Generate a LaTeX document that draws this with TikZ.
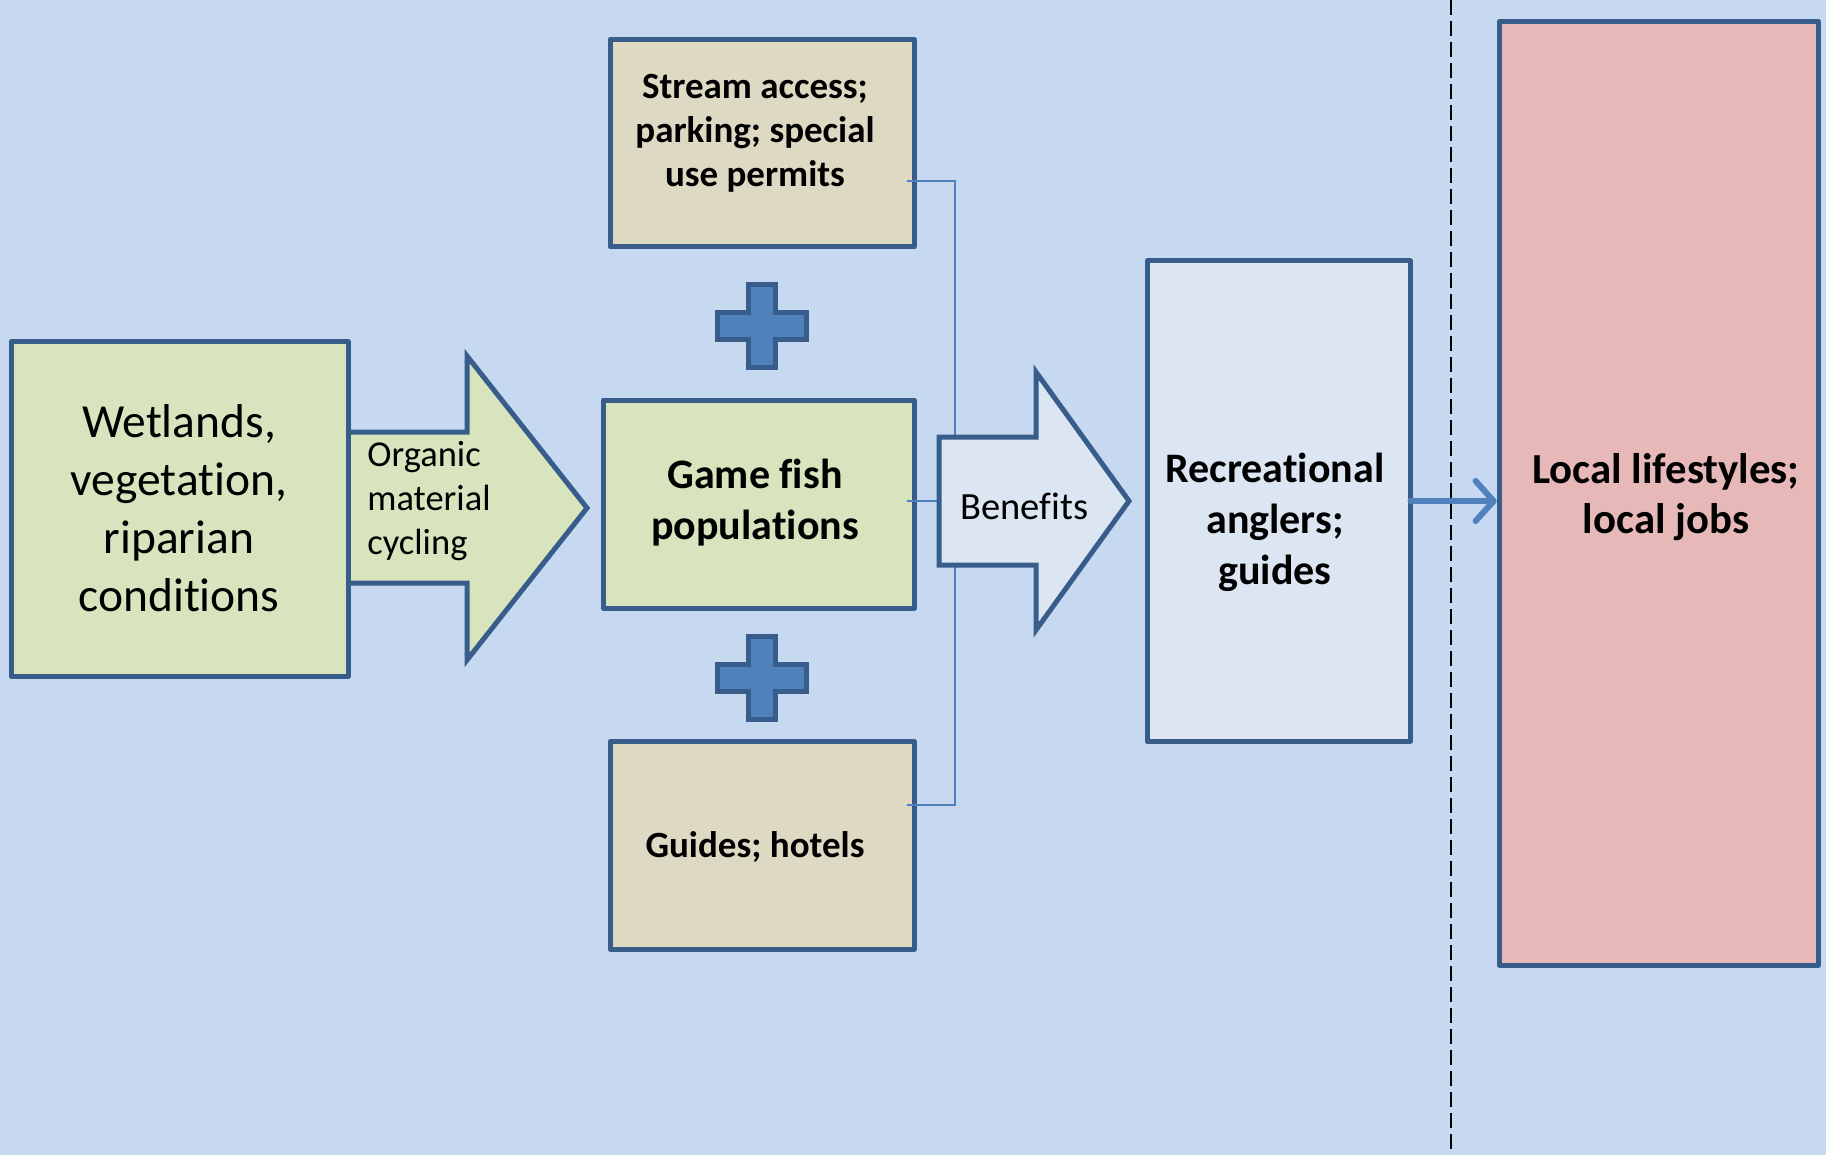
\documentclass[tikz,border=0pt]{standalone}
\usepackage{fontspec}
\setmainfont[Ligatures={NoCommon}]{Carlito}
\usetikzlibrary{calc,arrows.meta}
\definecolor{bgblue}{HTML}{C6D9F1}
\definecolor{boxgreen}{HTML}{D7E4BD}
\definecolor{boxtan}{HTML}{DDD9C3}
\definecolor{boxlight}{HTML}{DCE6F2}
\definecolor{boxpink}{HTML}{E6B9B8}
\definecolor{bord}{HTML}{385D8A}
\definecolor{accent}{HTML}{4F81BD}
\tikzset{
  box/.style={draw=bord, line width=2.5pt, line join=round, rectangle, inner sep=0pt, outer sep=0pt},
  bigarrow/.style={draw=bord, line width=2.5pt, line join=miter},
  plusshape/.style={draw=bord, fill=accent, line width=2.5pt, line join=miter},
  conn/.style={draw=accent, line width=1pt},
  flowarrow/.style={draw=accent, line width=3pt, line cap=round, -{Straight Barb[length=9pt, width=20pt, line cap=round, line join=round]}},
  divider/.style={draw=black, line width=1pt, dash pattern=on 7.5pt off 3pt},
  lbl/.style={align=center, inner sep=0pt, text=black}
}
\begin{document}
\begin{tikzpicture}[x=0.5pt, y=-0.5pt]
\fill[bgblue] (0,0) rectangle (1826,1155);
\useasboundingbox (0,0) rectangle (1826,1155);

% dashed divider
\draw[divider] (1451,0) -- (1451,1155);

% organic material arrow (behind the wetlands box)
\draw[bigarrow, fill=boxgreen] (348,432) -- (467,432) -- (467,356) -- (587,508) -- (467,660) -- (467,583) -- (348,583) -- cycle;

% boxes
\node[box, fill=boxgreen, minimum width=168.5pt, minimum height=167.6pt] (wet) at (179.5,509) {};
\node[box, fill=boxtan, minimum width=152pt, minimum height=103.75pt] (stream) at (762,143) {};
\node[box, fill=boxgreen, minimum width=155.5pt, minimum height=104pt] (game) at (758.5,504) {};
\node[box, fill=boxtan, minimum width=152pt, minimum height=103.75pt] (guides) at (762,845.25) {};
\node[box, fill=boxlight, minimum width=131.75pt, minimum height=240pt] (rec) at (1278.75,501) {};
\node[box, fill=boxpink, minimum width=159.4pt, minimum height=471.75pt] (local) at (1659,493.25) {};

% plus signs
\draw[plusshape, shift={(762,326)}] (-13.5,-41.5) -- (13.5,-41.5) -- (13.5,-13.5) -- (44.5,-13.5) -- (44.5,13.5) -- (13.5,13.5) -- (13.5,41.5) -- (-13.5,41.5) -- (-13.5,13.5) -- (-44.5,13.5) -- (-44.5,-13.5) -- (-13.5,-13.5) -- cycle;
\draw[plusshape, shift={(762,678)}] (-13.5,-41.5) -- (13.5,-41.5) -- (13.5,-13.5) -- (44.5,-13.5) -- (44.5,13.5) -- (13.5,13.5) -- (13.5,41.5) -- (-13.5,41.5) -- (-13.5,13.5) -- (-44.5,13.5) -- (-44.5,-13.5) -- (-13.5,-13.5) -- cycle;

% connectors into the benefits arrow
\coordinate (sc) at ($(stream.east)+(-7,38)$);
\coordinate (gc) at ($(guides.east)+(-7,-40)$);
\coordinate (fc) at ($(game.east)+(-7,-3)$);
\coordinate (benL) at (939,501);
\draw[conn] (sc) -- ++(48,0) |- (gc);
\draw[conn] (fc) -- (benL);

% benefits arrow
\draw[bigarrow, fill=boxlight] (939,437) -- (1036,437) -- (1036,372) -- (1129,501) -- (1036,630) -- (1036,565) -- (939,565) -- cycle;

% recreational -> local
\draw[flowarrow, shorten >=1.5pt] (rec.east) -- (rec.east -| local.west);

% texts
\node[lbl, font=\fontsize{23.75}{29}\selectfont] (wettext) at (179,508) {Wetlands,\\vegetation,\\riparian\\conditions};
\node[lbl, align=left, anchor=west, font=\fontsize{18.25}{22}\selectfont] (orgtext) at (367,501) {Organic\\material\\cycling};
\node[lbl, font=\bfseries\fontsize{18.5}{22}\selectfont] (streamtext) at (755,133.5) {Stream access;\\parking; special\\use permits};
\node[lbl, font=\bfseries\fontsize{21}{25.5}\selectfont] (gametext) at (755,503) {Game fish\\populations};
\node[lbl, font=\bfseries\fontsize{18.5}{22}\selectfont] (guidestext) at (755,847) {Guides; hotels};
\node[lbl, anchor=base west, font=\fontsize{19.25}{23}\selectfont] (bentext) at (960,519) {Benefits};
\node[lbl, font=\bfseries\fontsize{21}{25.5}\selectfont] (rectext) at (1275,522) {Recreational\\anglers;\\guides};
\node[lbl, font=\bfseries\fontsize{21.4}{25}\selectfont] (localtext) at (1666,497) {Local lifestyles;\\local jobs};
\end{tikzpicture}
\end{document}
